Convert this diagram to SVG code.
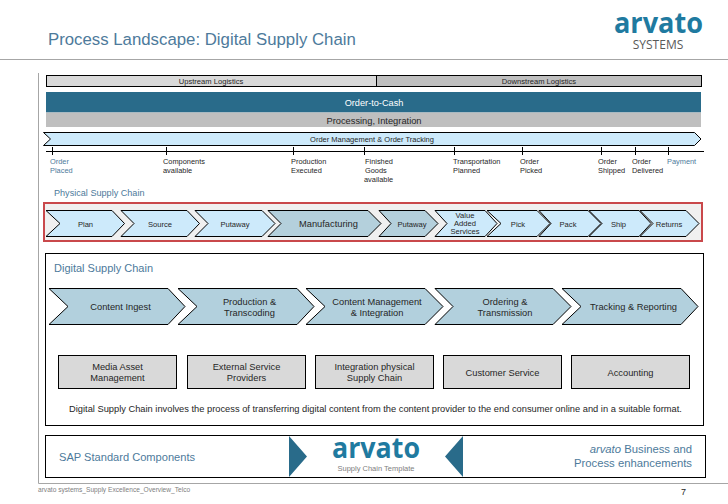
<svg xmlns="http://www.w3.org/2000/svg" width="728" height="504" viewBox="0 0 728 504">
<style>
text{font-family:"Liberation Sans",Arial,sans-serif;fill:#262626}
.c{text-anchor:middle}
.s7{font-size:7.4px}
.s75{font-size:7.6px}
.s8{font-size:9.3px}
.blue{fill:#4d7a9b}
.bar{stroke:#000;stroke-width:1}
.ph{fill:#cdeafb;stroke:#000;stroke-width:1}
.mf{fill:#b4d0dc;stroke:#000;stroke-width:1}
.dg{fill:#b2d0dd;stroke:#000;stroke-width:1}
.gb{fill:#d9d9d9;stroke:#000;stroke-width:1}
.tick{stroke:#000;stroke-width:1;fill:none}
.rule{stroke:#a6a6a6;stroke-width:1;fill:none}
.logo{font-family:"Open Sans","Liberation Sans",sans-serif;font-weight:700;fill:#1f7aa0}
</style>
<rect width="728" height="504" fill="#fff"/>
<g id="frame">
<path class="rule" d="M0 59.500H728M38.500 73V483.500H728"/>
<text x="48" y="45" font-size="16.800" style="fill:#4d7a9b">Process Landscape: Digital Supply Chain</text>
<text class="logo c" x="658.500" y="32.500" font-size="29" textLength="89" lengthAdjust="spacingAndGlyphs">arvato</text>
<text class="c" x="658" y="48.700" font-size="12" style="font-family:'Open Sans',sans-serif;fill:#595959">SYSTEMS</text>
<text x="38" y="492" font-size="6.600" style="fill:#808080">arvato systems_Supply Excellence_Overview_Telco</text>
<text x="681" y="495" font-size="9">7</text>
</g>
<g id="upstream"><rect class="bar" x="46.500" y="75.500" width="330" height="11" fill="#d9d9d9"/><text class="c s75" x="211" y="84">Upstream Logistics</text></g>
<g id="downstream"><rect class="bar" x="376.500" y="75.500" width="325" height="11" fill="#bfbfbf"/><text class="c s75" x="539" y="84">Downstream Logistics</text></g>
<g id="order-to-cash"><rect x="46" y="92" width="655" height="20.500" fill="#296b8a"/><text class="c" x="374" y="106" font-size="9.200" style="fill:#fff">Order-to-Cash</text></g>
<g id="processing"><rect x="46" y="112.500" width="655" height="14.500" fill="#bfbfbf"/><text class="c" x="374" y="124" font-size="9.300">Processing, Integration</text></g>
<g id="order-management"><path class="ph" d="M43.500 132.500H694.500L701 139L694.500 145.500H43.500L50.500 139Z"/><text class="c" x="372" y="142" font-size="7.500">Order Management &amp; Order Tracking</text></g>
<g id="timeline">
<path class="tick" d="M46 151.500H704M52.500 147V155M166.500 147V155M293.500 147V155M364.500 147V155M454.500 147V155M522.500 147V155M601.500 147V155M635.500 147V155M668.500 147V155"/>
<g class="s7">
<text x="50" y="164" class="blue">Order</text><text x="50" y="173" class="blue">Placed</text>
<text x="163" y="164">Components</text><text x="163" y="173">available</text>
<text x="291" y="164">Production</text><text x="291" y="173">Executed</text>
<text x="365" y="164">Finished</text><text x="365" y="173">Goods</text><text x="364" y="182">available</text>
<text x="453" y="164">Transportation</text><text x="453" y="173">Planned</text>
<text x="520" y="164">Order</text><text x="520" y="173">Picked</text>
<text x="598" y="164">Order</text><text x="598" y="173">Shipped</text>
<text x="632" y="164">Order</text><text x="632" y="173">Delivered</text>
<text x="667" y="164" class="blue">Payment</text>
</g>
</g>
<text class="blue" x="54" y="196" font-size="9.100">Physical Supply Chain</text>
<rect id="physical-frame" x="44" y="203" width="658" height="38" fill="#f0f0f0" stroke="#c9484b" stroke-width="2"/>
<g id="plan"><path class="ph" d="M46 210.500H112L124.500 223.500L112 236.500H46L60 223.500Z"/><text class="c s75" x="85.500" y="226.500">Plan</text></g>
<g id="source"><path class="ph" d="M121 210.500H187L199.500 223.500L187 236.500H121L134 223.500Z"/><text class="c s75" x="160" y="226.500">Source</text></g>
<g id="putaway-1"><path class="ph" d="M195 210.500H262L275 223.500L262 236.500H195L208 223.500Z"/><text class="c s75" x="235" y="226.500">Putaway</text></g>
<g id="manufacturing"><path class="mf" d="M268 210.500H368L381 223.500L368 236.500H268L281 223.500Z"/><text class="c" x="328.500" y="227" font-size="9.300">Manufacturing</text></g>
<g id="putaway-2"><path class="mf" d="M379 210.500H425L438 223.500L425 236.500H379L391 223.500Z"/><text class="c s75" x="412" y="226.500">Putaway</text></g>
<g id="value-added"><path class="ph" d="M435 210.500H485L497 223.500L485 236.500H435L447 223.500Z"/><text class="c s75" x="465" y="218">Value</text><text class="c s75" x="465" y="225.500">Added</text><text class="c s75" x="465" y="233.500">Services</text></g>
<g id="pick"><path class="ph" d="M487 210.500H537L550 223.500L537 236.500H487L501 223.500Z"/><text class="c s75" x="518" y="226.500">Pick</text></g>
<g id="pack"><path class="ph" d="M539 210.500H588L601 223.500L588 236.500H539L551 223.500Z"/><text class="c s75" x="568" y="226.500">Pack</text></g>
<g id="ship"><path class="ph" d="M589 210.500H639L651 223.500L639 236.500H589L602 223.500Z"/><text class="c s75" x="618.500" y="226.500">Ship</text></g>
<g id="returns"><path class="ph" d="M640 210.500H686L699 223.500L686 236.500H640L653 223.500Z"/><text class="c s75" x="669" y="226.500">Returns</text></g>
<rect id="digital-frame" x="45.500" y="253.500" width="658" height="172" fill="#fff" stroke="#000"/>
<text class="blue" x="54" y="271.500" font-size="11">Digital Supply Chain</text>
<g id="content-ingest"><path class="dg" d="M49 288.500H168L185 306.500L168 324.500H49L68 306.500Z"/><text class="c s8" x="120.500" y="310">Content Ingest</text></g>
<g id="production"><path class="dg" d="M178 288.500H297L314 306.500L297 324.500H178L197 306.500Z"/><text class="c s8" x="249.500" y="305">Production &amp;</text><text class="c s8" x="249.500" y="316">Transcoding</text></g>
<g id="content-management"><path class="dg" d="M306 288.500H425L443 306.500L425 324.500H306L325 306.500Z"/><text class="c s8" x="377" y="305">Content Management</text><text class="c s8" x="377" y="316">&amp; Integration</text></g>
<g id="ordering"><path class="dg" d="M435 288.500H553L571 306.500L553 324.500H435L453 306.500Z"/><text class="c s8" x="505" y="305">Ordering &amp;</text><text class="c s8" x="505" y="316">Transmission</text></g>
<g id="tracking"><path class="dg" d="M562 288.500H681L698 306.500L681 324.500H562L581 306.500Z"/><text class="c s8" x="633.500" y="310">Tracking &amp; Reporting</text></g>
<g id="media-asset"><rect class="gb" x="58.500" y="355.500" width="118" height="33"/><text class="c s8" x="117.500" y="370">Media Asset</text><text class="c s8" x="117.500" y="381">Management</text></g>
<g id="external-service"><rect class="gb" x="187.500" y="355.500" width="118" height="33"/><text class="c s8" x="246.500" y="370">External Service</text><text class="c s8" x="246.500" y="381">Providers</text></g>
<g id="integration-physical"><rect class="gb" x="315.500" y="355.500" width="118" height="33"/><text class="c s8" x="374.500" y="370">Integration physical</text><text class="c s8" x="374.500" y="381">Supply Chain</text></g>
<g id="customer-service"><rect class="gb" x="443.500" y="355.500" width="118" height="33"/><text class="c s8" x="502.500" y="376">Customer Service</text></g>
<g id="accounting"><rect class="gb" x="571.500" y="355.500" width="118" height="33"/><text class="c s8" x="630.500" y="376">Accounting</text></g>
<text class="c s8" x="375.500" y="412">Digital Supply Chain involves the process of transferring digital content from the content provider to the end consumer online and in a suitable format.</text>
<g id="components-bar">
<rect x="45.500" y="435.500" width="660" height="42" fill="#fff" stroke="#000"/>
<text class="blue" x="59" y="461" font-size="11.100">SAP Standard Components</text>
<path fill="#296b8a" d="M289 436L307 456.500L289 477ZM463 436L445 456.500L463 477Z"/>
<text class="logo c" x="376" y="458" font-size="29" textLength="88" lengthAdjust="spacingAndGlyphs">arvato</text>
<text class="c" x="376" y="470.500" font-size="7.500" style="fill:#808080">Supply Chain Template</text>
<text x="692" y="453" font-size="11.300" text-anchor="end" class="blue"><tspan font-style="italic">arvato</tspan> Business and</text>
<text x="692" y="467" font-size="11.300" text-anchor="end" class="blue">Process enhancements</text>
</g>
</svg>
